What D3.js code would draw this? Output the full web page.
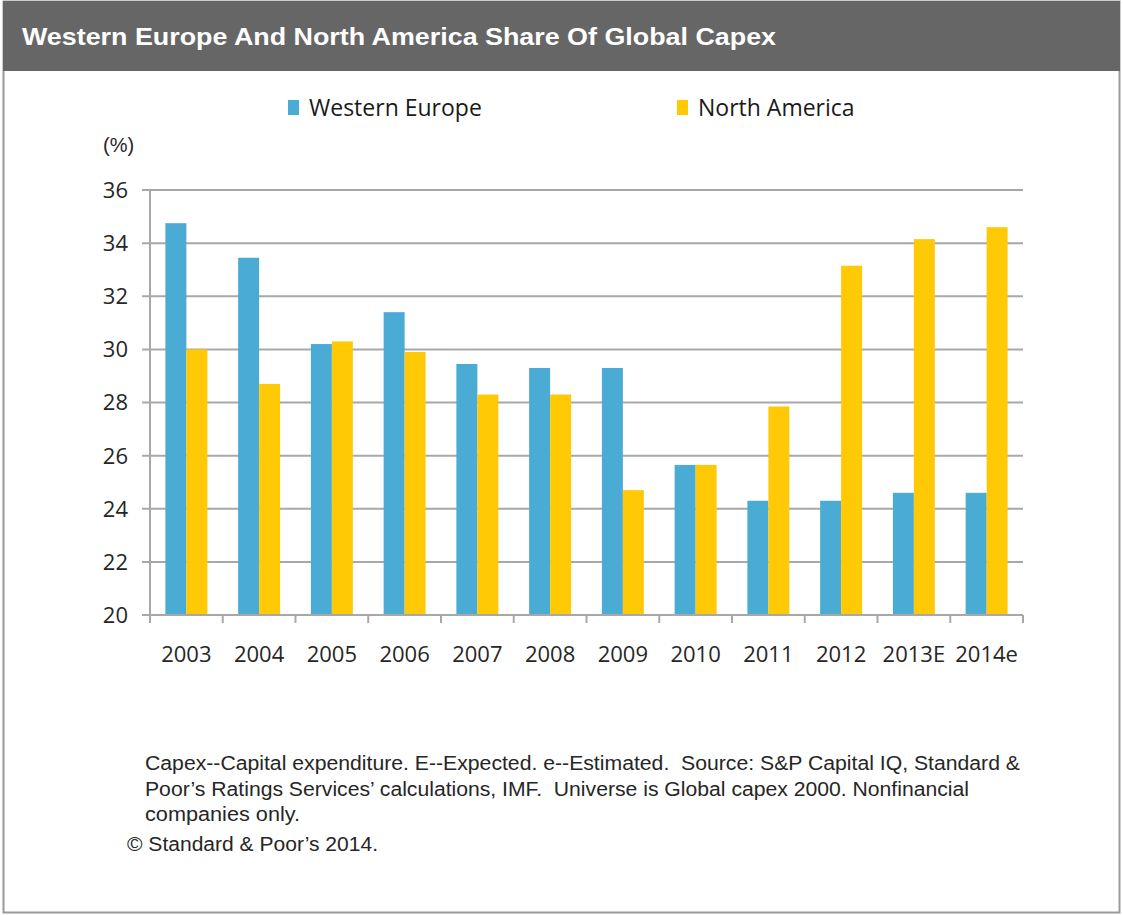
<!DOCTYPE html>
<html>
<head>
<meta charset="utf-8">
<script src="https://cdn.jsdelivr.net/npm/d3@7"></script>
<style>
  body { margin: 0; background: #fff; }
  svg { display: block; }
</style>
</head>
<body>
<div class="chart"></div>
<script>
var years = ["2003", "2004", "2005", "2006", "2007", "2008", "2009", "2010", "2011", "2012", "2013E", "2014e"];
var westernEurope = [34.75, 33.45, 30.2, 31.4, 29.45, 29.3, 29.3, 25.65, 24.3, 24.3, 24.6, 24.6];
var northAmerica = [30.0, 28.7, 30.3, 29.9, 28.3, 28.3, 24.7, 25.65, 27.85, 33.15, 34.15, 34.6];
var seriesNames = ["Western Europe", "North America"];
var yTicks = [20, 22, 24, 26, 28, 30, 32, 34, 36];
var notes = [
  "Capex--Capital expenditure. E--Expected. e--Estimated.  Source: S&P Capital IQ, Standard &",
  "Poor\u2019s Ratings Services\u2019 calculations, IMF.  Universe is Global capex 2000. Nonfinancial",
  "companies only."
];
var copyright = "\u00a9 Standard & Poor\u2019s 2014.";

var width = 1123,
    height = 915;

var colors = ["#4aabd5", "#ffc906"];
var gridColor = "#a8a8a8";
var textColor = "#262626";

var svg = d3.select(".chart")
  .append("svg")
    .attr("width", width)
    .attr("height", height);

// frame + header band
svg.append("rect")
  .attr("x", 3.5).attr("y", 1.5)
  .attr("width", 1116).attr("height", 911)
  .attr("fill", "#fff")
  .attr("stroke", "#9a9a9a")
  .attr("stroke-width", 2);

svg.append("rect")
  .attr("x", 3).attr("y", 1)
  .attr("width", 1117).attr("height", 70)
  .attr("fill", "#666666");

svg.append("text")
  .attr("x", 22).attr("y", 45)
  .attr("textLength", 754)
  .attr("lengthAdjust", "spacingAndGlyphs")
  .style("font-family", "'Liberation Sans', Arial, sans-serif")
  .style("font-size", "24px")
  .style("font-weight", "bold")
  .attr("fill", "#fff")
  .text("Western Europe  And North America Share Of Global Capex");

// scales
var x0 = d3.scaleBand()
  .domain(years)
  .range([150, 1023])
  .paddingInner(0.423)
  .paddingOuter(0.2115);

var x1 = d3.scaleBand()
  .domain([0, 1])
  .range([0, x0.bandwidth()]);

var y = d3.scaleLinear()
  .domain([20, 36])
  .range([615, 190]);

var step = (1023 - 150) / years.length;

// gridlines
svg.append("g")
  .selectAll("line")
  .data(yTicks)
  .enter()
  .append("line")
  .attr("x1", 142).attr("x2", 1023)
  .attr("y1", function(d) { return y(d); })
  .attr("y2", function(d) { return y(d); })
  .attr("stroke", gridColor)
  .attr("stroke-width", 2);

// y axis line
svg.append("line")
  .attr("x1", 150).attr("x2", 150)
  .attr("y1", y(36)).attr("y2", y(20) + 1)
  .attr("stroke", gridColor)
  .attr("stroke-width", 2);

// y labels
svg.append("g")
  .selectAll("text")
  .data(yTicks)
  .enter()
  .append("text")
  .attr("x", 128)
  .attr("y", function(d) { return y(d); })
  .attr("dy", "0.36em")
  .attr("text-anchor", "end")
  .style("font-family", "'Open Sans', sans-serif")
  .style("font-size", "22px")
  .attr("fill", textColor)
  .text(function(d) { return d; });

svg.append("text")
  .attr("x", 103).attr("y", 152)
  .style("font-family", "'Liberation Sans', Arial, sans-serif")
  .style("font-size", "20px")
  .attr("fill", textColor)
  .text("(%)");

// bars
var groups = svg.append("g")
  .selectAll("g")
  .data(years)
  .enter()
  .append("g")
  .attr("transform", function(d) { return "translate(" + x0(d) + ",0)"; });

groups.selectAll("rect")
  .data(function(d, i) { return [westernEurope[i], northAmerica[i]]; })
  .enter()
  .append("rect")
  .attr("x", function(d, j) { return x1(j); })
  .attr("y", function(d) { return y(d); })
  .attr("width", x1.bandwidth())
  .attr("height", function(d) { return y(20) - y(d); })
  .attr("fill", function(d, j) { return colors[j]; });

// x axis line and ticks at category boundaries
svg.append("line")
  .attr("x1", 142).attr("x2", 1023)
  .attr("y1", y(20)).attr("y2", y(20))
  .attr("stroke", gridColor)
  .attr("stroke-width", 2);

svg.append("g")
  .selectAll("line")
  .data(d3.range(years.length + 1))
  .enter()
  .append("line")
  .attr("x1", function(k) { return 150 + k * step; })
  .attr("x2", function(k) { return 150 + k * step; })
  .attr("y1", y(20)).attr("y2", y(20) + 8)
  .attr("stroke", gridColor)
  .attr("stroke-width", 2);

svg.append("g")
  .selectAll("text")
  .data(years)
  .enter()
  .append("text")
  .attr("x", function(d) { return x0(d) + x0.bandwidth() / 2; })
  .attr("y", 662)
  .attr("text-anchor", "middle")
  .style("font-family", "'Open Sans', sans-serif")
  .style("font-size", "22px")
  .attr("fill", textColor)
  .text(function(d) { return d; });

// legend
var legend = svg.append("g")
  .selectAll("g")
  .data(seriesNames)
  .enter()
  .append("g")
  .attr("transform", function(d, i) { return "translate(" + [288, 677][i] + ",100)"; });

legend.append("rect")
  .attr("width", 11).attr("height", 15)
  .attr("fill", function(d, i) { return colors[i]; });

legend.append("text")
  .attr("x", 21).attr("y", 16)
  .style("font-family", "'Open Sans', sans-serif")
  .style("font-size", "23px")
  .attr("fill", "#1a1a1a")
  .text(function(d) { return d; });

// footnotes
var noteWidths = [875, 824, 155];
svg.append("g")
  .selectAll("text")
  .data(notes)
  .enter()
  .append("text")
  .attr("x", 145)
  .attr("y", function(d, i) { return 770 + i * 25.5; })
  .attr("textLength", function(d, i) { return noteWidths[i]; })
  .attr("lengthAdjust", "spacingAndGlyphs")
  .attr("xml:space", "preserve")
  .style("white-space", "pre")
  .style("font-family", "'Liberation Sans', Arial, sans-serif")
  .style("font-size", "19.5px")
  .attr("fill", textColor)
  .text(function(d) { return d; });

svg.append("text")
  .attr("x", 127).attr("y", 851)
  .attr("textLength", 251)
  .attr("lengthAdjust", "spacingAndGlyphs")
  .style("font-family", "'Liberation Sans', Arial, sans-serif")
  .style("font-size", "19.5px")
  .attr("fill", textColor)
  .text(copyright);
</script>
</body>
</html>
